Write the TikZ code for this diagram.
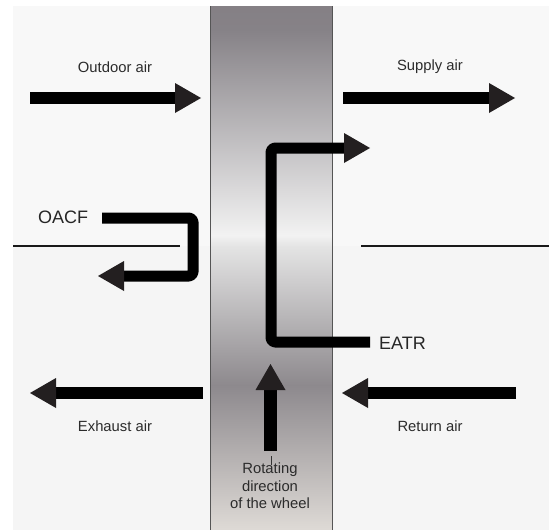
\documentclass[tikz,border=0pt]{standalone}
\usepackage{fontspec}
\setmainfont{Liberation Sans}
\definecolor{arrowdark}{HTML}{231F20}
\definecolor{labelgray}{HTML}{2B2B2B}
\definecolor{bgup}{HTML}{F8F8F8}
\definecolor{bglow}{HTML}{F5F5F5}
\definecolor{bandA}{HTML}{858085}
\definecolor{bandB}{HTML}{868287}
\definecolor{bandC}{HTML}{F2F2F2}
\definecolor{bandD}{HTML}{E4E4E4}
\definecolor{bandE}{HTML}{8D898D}
\definecolor{bandF}{HTML}{DEDAD6}
\definecolor{bandedge}{HTML}{555555}
\begin{document}
\begin{tikzpicture}[x=1pt,y=-1pt,
  shaft/.style={line width=12pt, draw=black},
  elbowpath/.style={line width=11pt, draw=black, rounded corners=4pt, line join=round},
  lbl/.style={font=\fontsize{14.8}{17.5}\selectfont, text=labelgray, inner sep=0pt, align=center},
  tag/.style={font=\fontsize{18}{20}\selectfont, text=black!85, inner sep=0pt, anchor=west},
  partition/.style={line width=2.5pt, draw=black!90},
  headright/.pic={\fill[arrowdark] (-26,-15) -- (0,0) -- (-26,15) -- cycle;}
]
\useasboundingbox (0,0) rectangle (549,530);
% background
\fill[white] (0,0) rectangle (549,530);
\fill[bgup] (13,6) rectangle (549,246);
\fill[bglow] (13,246) rectangle (549,530);
% wheel band
\shade[top color=bandA, bottom color=bandB] (210,6) rectangle (332,30.5);
\shade[top color=bandB, bottom color=bandC] (210,30) rectangle (332,235.5);
\shade[top color=bandC, bottom color=bandD] (210,235) rectangle (332,246.5);
\shade[top color=bandD, bottom color=bandE] (210,246) rectangle (332,385.5);
\shade[top color=bandE, bottom color=bandF] (210,385) rectangle (332,530);
\draw[bandedge, line width=1pt] (210,6) -- (210,530);
\draw[bandedge, line width=1pt] (332,6) -- (332,530);
% partitions
\draw[partition] (13,246) -- (180,246);
\draw[partition] (361,246) -- (549,246);
% coordinates
\coordinate (oaS) at (30,98);   \coordinate (oaT) at (201,98);
\coordinate (saS) at (343,98);  \coordinate (saT) at (515,98);
\coordinate (eaS) at (203,393); \coordinate (eaT) at (30,393);
\coordinate (raS) at (516,393); \coordinate (raT) at (342,393);
\coordinate (rotS) at (270.5,451); \coordinate (rotT) at (270.5,364);
% straight arrows
\draw[shaft] (oaS) -- ([xshift=-25]oaT);
\pic at (oaT) {headright};
\draw[shaft] (saS) -- ([xshift=-25]saT);
\pic at (saT) {headright};
\draw[shaft] (eaS) -- ([xshift=25]eaT);
\pic[rotate=180] at (eaT) {headright};
\draw[shaft] (raS) -- ([xshift=25]raT);
\pic[rotate=180] at (raT) {headright};
\draw[line width=13pt, draw=black] (rotS) -- ([yshift=-25]rotT);
\pic[rotate=90] at (rotT) {headright};
\draw[black!80, line width=0.6pt] (271,456) -- (271,465);
% OACF and EATR bent arrows
\node[tag] (oacf) at (38,217) {OACF};
\node[tag] (eatr) at (379,343) {EATR};
\coordinate (ocS) at (102,218); \coordinate (ocT) at (98,276);
\draw[elbowpath] (ocS) -- (193,218) -- (193,276) -- ([xshift=25]ocT);
\pic[rotate=180] at (ocT) {headright};
\coordinate (etS) at (370,342); \coordinate (etT) at (370,148);
\draw[elbowpath] (etS) -- (271,342) -- (271,148) -- ([xshift=-25]etT);
\pic at (etT) {headright};
% labels
\node[lbl] (outdoor) at (115,67) {Outdoor air};
\node[lbl] (supply) at (430,67) {Supply air};
\node[lbl] (exhaust) at (115,426) {Exhaust air};
\node[lbl] (return) at (430,426) {Return air};
\node[lbl] (rotating) at (270,486) {Rotating\\direction\\of the wheel};
\end{tikzpicture}
\end{document}
